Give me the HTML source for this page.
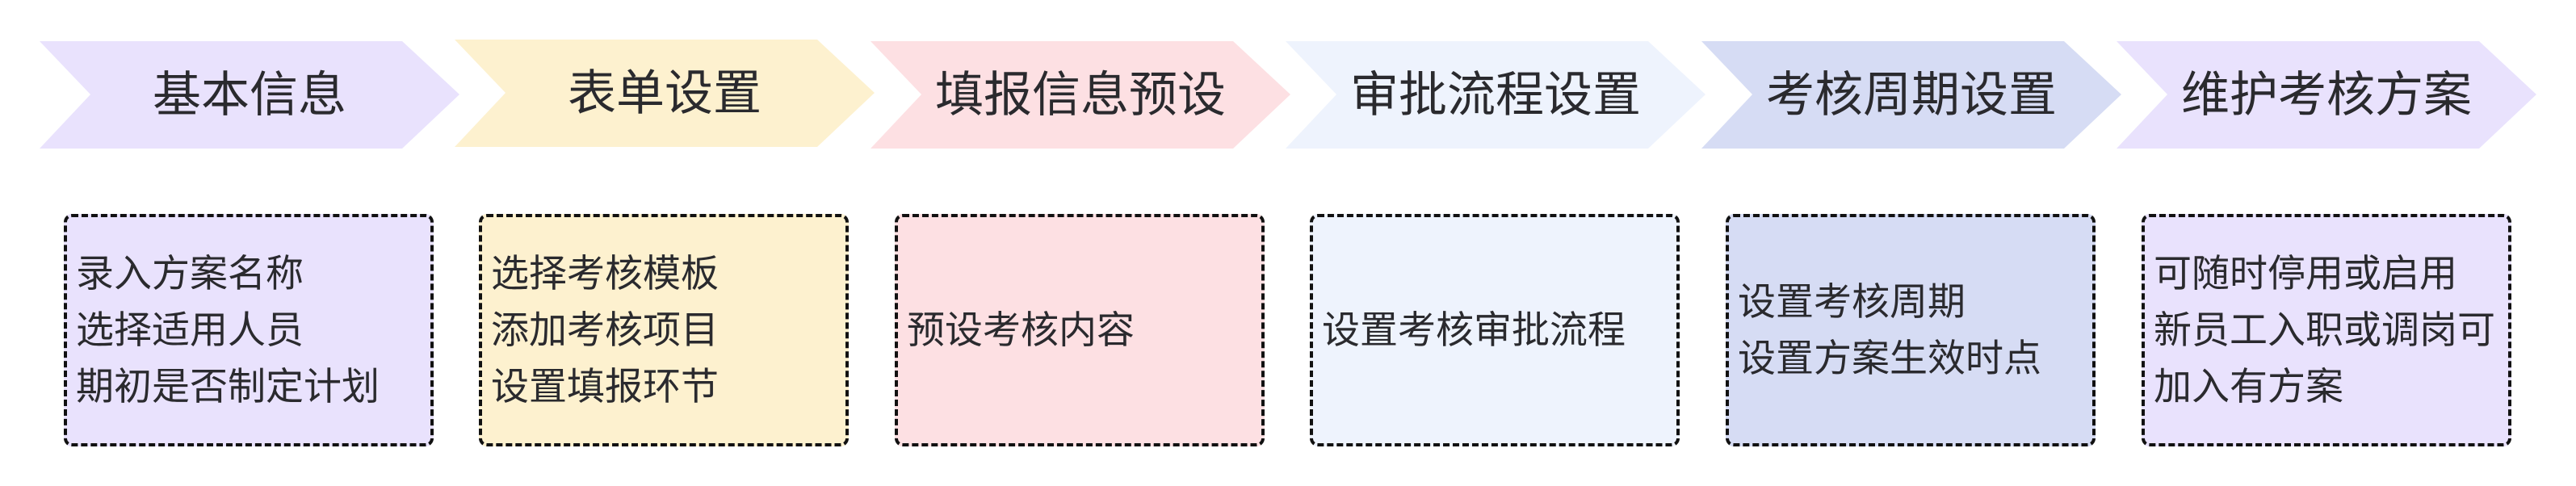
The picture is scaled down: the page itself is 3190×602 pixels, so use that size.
<!DOCTYPE html>
<html><head><meta charset="utf-8"><style>
body{margin:0;width:3190px;height:602px;background:#fff;position:relative;overflow:hidden;font-family:"Liberation Sans","Noto Sans CJK SC",sans-serif;color:#2a2a2e}
.chev{position:absolute;top:51px;width:520px;height:133px}
.chev svg{position:absolute;left:0;top:0}
.chev span{position:absolute;left:0;width:520px;top:0;height:133px;line-height:133px;text-align:center;font-size:60px}
.box{position:absolute;top:265px;width:458px;height:288px;box-sizing:border-box;border:4px dashed #111;border-radius:10px;display:flex;align-items:center;padding-left:11px;font-size:47px;line-height:70px}
</style></head><body>

<div class="chev" style="left:49px"><svg width="520" height="133"><polygon points="0,0 449,0 520,66 449,133 0,133 63,66" fill="#e9e2fd"/></svg><span>基本信息</span></div>
<div class="chev" style="left:563px;top:49px"><svg width="520" height="133"><polygon points="0,0 449,0 520,66 449,133 0,133 63,66" fill="#fdf1cf"/></svg><span>表单设置</span></div>
<div class="chev" style="left:1078px"><svg width="520" height="133"><polygon points="0,0 449,0 520,66 449,133 0,133 63,66" fill="#fde0e3"/></svg><span>填报信息预设</span></div>
<div class="chev" style="left:1592px"><svg width="520" height="133"><polygon points="0,0 449,0 520,66 449,133 0,133 63,66" fill="#eef3fd"/></svg><span>审批流程设置</span></div>
<div class="chev" style="left:2107px"><svg width="520" height="133"><polygon points="0,0 449,0 520,66 449,133 0,133 63,66" fill="#d6dcf4"/></svg><span>考核周期设置</span></div>
<div class="chev" style="left:2621px"><svg width="520" height="133"><polygon points="0,0 449,0 520,66 449,133 0,133 63,66" fill="#e9e2fd"/></svg><span>维护考核方案</span></div>

<div class="box" style="left:79px;background:#e9e2fd"><div>录入方案名称<br>选择适用人员<br>期初是否制定计划</div></div>
<div class="box" style="left:593px;background:#fdf1cf"><div>选择考核模板<br>添加考核项目<br>设置填报环节</div></div>
<div class="box" style="left:1108px;background:#fde0e3"><div>预设考核内容</div></div>
<div class="box" style="left:1622px;background:#eef3fd"><div>设置考核审批流程</div></div>
<div class="box" style="left:2137px;background:#d6dcf4"><div>设置考核周期<br>设置方案生效时点</div></div>
<div class="box" style="left:2652px;background:#e9e2fd"><div>可随时停用或启用<br>新员工入职或调岗可<br>加入有方案</div></div>

</body></html>
